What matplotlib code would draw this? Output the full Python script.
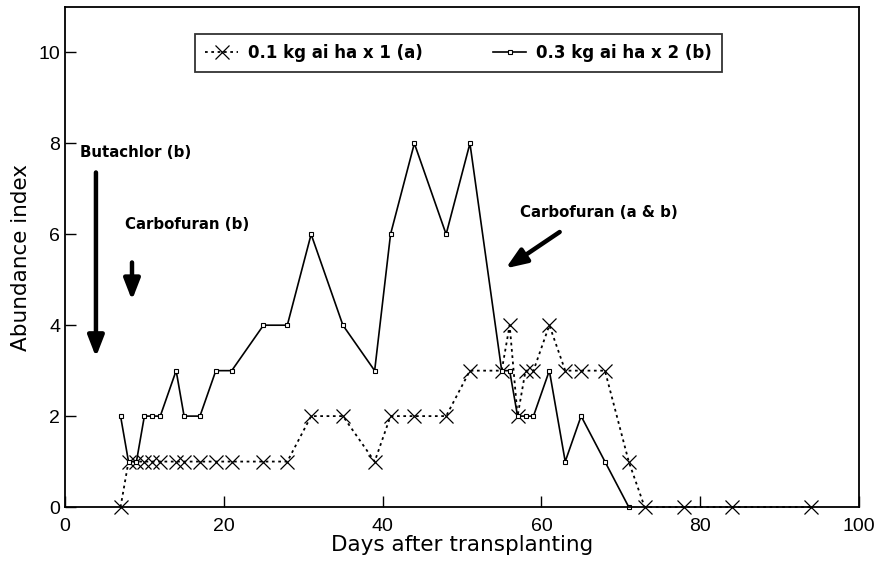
import matplotlib
matplotlib.use("Agg")
import matplotlib.pyplot as plt

# Data
days_a = [7, 8, 9, 10, 11, 12, 14, 15, 17, 19, 21, 25, 28, 31, 35, 39, 41, 44, 48, 51,
          55, 56, 57, 58, 59, 61, 63, 65, 68, 71, 73, 78, 84, 94]
abund_a = [0, 1, 1, 1, 1, 1, 1, 1, 1, 1, 1, 1, 1, 2, 2, 1, 2, 2, 2, 3,
           3, 4, 2, 3, 3, 4, 3, 3, 3, 1, 0, 0, 0, 0]
days_b = [7, 8, 9, 10, 11, 12, 14, 15, 17, 19, 21, 25, 28, 31, 35, 39, 41, 44, 48, 51,
          55, 56, 57, 58, 59, 61, 63, 65, 68, 71]
abund_b = [2, 1, 1, 2, 2, 2, 3, 2, 2, 3, 3, 4, 4, 6, 4, 3, 6, 8, 6, 8,
           3, 3, 2, 2, 2, 3, 1, 2, 1, 0]
label_a = "0.1 kg ai ha x 1 (a)"
label_b = "0.3 kg ai ha x 2 (b)"
x_ticks = [0, 20, 40, 60, 80, 100]
y_ticks = [0, 2, 4, 6, 8, 10]

plt.rcParams['font.family'] = ['DejaVu Sans']

fig = plt.figure(figsize=(8.95, 5.78), dpi=100)
ax = fig.add_axes([0.0726, 0.1228, 0.8872, 0.8651])

ax.plot(days_a, abund_a, linestyle=(0, (1.5, 2)), color='black', lw=1.3,
        marker='x', markersize=10, markeredgewidth=0.9, label=label_a, clip_on=False)
ax.plot(days_b, abund_b, linestyle='-', color='black', lw=1.2,
        marker='s', markersize=3.2, markerfacecolor='white', markeredgecolor='black',
        markeredgewidth=0.8, label=label_b, clip_on=False)

ax.set_xlim(0, 100)
ax.set_ylim(0, 11)
ax.set_xticks(x_ticks)
ax.set_yticks(y_ticks)
ax.tick_params(direction='in', length=8, width=1, labelsize=14)
ax.tick_params(axis='x', pad=8)
for lab in ax.get_xticklabels() + ax.get_yticklabels():
    lab.set_family('Liberation Sans')
for s in ax.spines.values():
    s.set_linewidth(1.3)

ax.set_xlabel("Days after transplanting", fontsize=15.5, labelpad=0)
ax.set_ylabel("Abundance index", fontsize=15.5, labelpad=5)

# Annotations
afont = dict(fontsize=10.8, fontweight='bold', va='center', ha='left')
ax.text(1.9, 7.8, "Butachlor (b)", **afont)
ax.text(7.55, 6.22, "Carbofuran (b)", **afont)
ax.text(57.3, 6.48, "Carbofuran (a & b)", **afont)

arrow = dict(arrowstyle='-|>,head_length=0.9,head_width=0.35', lw=3.2, color='black',
             shrinkA=0, shrinkB=0, mutation_scale=14)
ax.annotate('', xy=(3.9, 3.3), xytext=(3.9, 7.36), arrowprops=arrow)
ax.annotate('', xy=(8.44, 4.55), xytext=(8.44, 5.38), arrowprops=arrow)
ax.annotate('', xy=(55.5, 5.25), xytext=(62.3, 6.05), arrowprops=arrow)

leg = ax.legend(loc='upper left', bbox_to_anchor=(0.1637, 0.946),
                ncol=2, frameon=True, fancybox=False,
                prop={'size': 12, 'weight': 'bold'}, handlelength=2.0,
                borderaxespad=0, handletextpad=0.6, borderpad=0.6,
                columnspacing=4.2)
leg.get_frame().set_edgecolor('black')
leg.get_frame().set_linewidth(1.3)

fig.savefig("out.png", dpi=100)
